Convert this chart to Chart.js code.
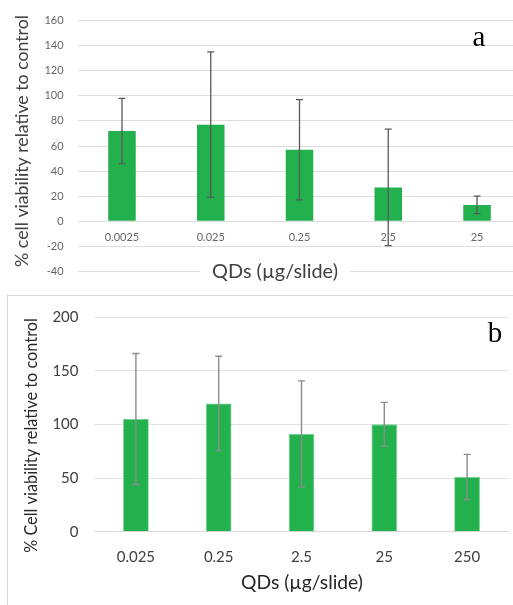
<!DOCTYPE html>
<html><head><meta charset="utf-8">
<script src="https://cdn.jsdelivr.net/npm/chart.js@4.4.1/dist/chart.umd.min.js"></script>
<style>
html,body{margin:0;padding:0;background:#fff;overflow:hidden;width:513px;height:605px;position:relative;}
#box{position:absolute;left:7px;top:295px;width:530px;height:330px;border:1px solid #d9d9d9;box-sizing:border-box;}
#wa{position:absolute;left:0;top:0;width:530px;height:292px;}
#wb{position:absolute;left:0;top:292px;width:513px;height:313px;}
</style></head><body>
<div id="box"></div>
<div id="wa"><canvas id="ca"></canvas></div>
<div id="wb"><canvas id="cb"></canvas></div>
<script>
// ---- Data: panel a ----
const categoriesA = ['0.0025', '0.025', '0.25', '2.5', '25'];
const valuesA = [72, 77, 57, 27, 13];
const errorsA = [26, 58, 40, 46.5, 7];
const yTicksA = [-40, -20, 0, 20, 40, 60, 80, 100, 120, 140, 160];

// ---- Data: panel b ----
const categoriesB = ['0.025', '0.25', '2.5', '25', '250'];
const valuesB = [105, 119.5, 91, 100, 51];
const errorsB = [61, 44, 49.5, 20.5, 21];
const yTicksB = [0, 50, 100, 150, 200];

const FONT = 'Lato, "Open Sans", sans-serif';
const GREEN = '#23b14d';

function fitSize(ctx, text, weight, family, target) {
  ctx.font = weight + ' 20px ' + family;
  const w = ctx.measureText(text).width;
  return 20 * target / w;
}

const extrasPlugin = {
  id: 'extras',
  afterDatasetsDraw(chart, args, opts) {
    const ctx = chart.ctx;
    const xs = chart.scales.x, ys = chart.scales.y;
    ctx.save();
    ctx.strokeStyle = opts.errColor;
    ctx.lineWidth = opts.errWidth;
    opts.values.forEach((v, i) => {
      const e = opts.errors[i];
      const x = xs.getPixelForValue(i);
      const yt = ys.getPixelForValue(v + e);
      const yb = ys.getPixelForValue(v - e);
      ctx.beginPath();
      ctx.moveTo(x, yt); ctx.lineTo(x, yb);
      ctx.moveTo(x - opts.cap, yt); ctx.lineTo(x + opts.cap, yt);
      ctx.moveTo(x - opts.cap, yb); ctx.lineTo(x + opts.cap, yb);
      ctx.stroke();
    });
    ctx.restore();
  },
  afterDraw(chart, args, opts) {
    const ctx = chart.ctx;
    ctx.save();
    const yt = opts.yTitle;
    let s = fitSize(ctx, yt.text, '400', FONT, yt.length);
    ctx.font = '400 ' + s + 'px ' + FONT;
    ctx.fillStyle = yt.color;
    ctx.textAlign = 'center';
    ctx.textBaseline = 'middle';
    ctx.translate(yt.x, yt.y);
    ctx.rotate(-Math.PI / 2);
    ctx.fillText(yt.text, 0, 0);
    ctx.setTransform(chart.currentDevicePixelRatio, 0, 0, chart.currentDevicePixelRatio, 0, 0);
    const xt = opts.xTitle;
    s = fitSize(ctx, xt.text, '400', FONT, xt.length);
    ctx.font = '400 ' + s + 'px ' + FONT;
    if (xt.bg) {
      ctx.fillStyle = '#fff';
      ctx.fillRect(xt.x - xt.length / 2 - xt.bgPad, xt.y - 4, xt.length + 2 * xt.bgPad, 8);
    }
    ctx.fillStyle = xt.color;
    ctx.textAlign = 'center';
    ctx.textBaseline = 'middle';
    ctx.fillText(xt.text, xt.x, xt.y);
    const pl = opts.label;
    ctx.font = '400 29px "Liberation Serif", "Times New Roman", serif';
    ctx.fillStyle = '#000';
    ctx.textAlign = 'center';
    ctx.textBaseline = 'alphabetic';
    ctx.fillText(pl.text, pl.x, pl.y);
    ctx.restore();
  }
};

new Chart(document.getElementById('ca'), {
  type: 'bar',
  data: {
    labels: categoriesA,
    datasets: [{ data: valuesA, backgroundColor: GREEN, barPercentage: 0.31, categoryPercentage: 1 }]
  },
  options: {
    responsive: true, maintainAspectRatio: false, animation: false,
    layout: { padding: { top: 16, bottom: 20.3, left: 0, right: 8.6 } },
    plugins: {
      legend: { display: false }, tooltip: { enabled: false },
      extras: {
        values: valuesA, errors: errorsA, errColor: '#595959', errWidth: 1.3, cap: 3.5,
        yTitle: { text: '% cell viability relative to control', x: 22, y: 141, length: 252, color: '#404040' },
        xTitle: { text: 'QDs (µg/slide)', x: 275, y: 272, length: 126, color: '#404040', bg: true, bgPad: 12 },
        label: { text: 'a', x: 479, y: 46 }
      }
    },
    scales: {
      x: {
        position: { y: 0 },
        grid: { display: false }, border: { display: false },
        ticks: { padding: 2, color: '#666', font: { family: FONT, size: 11 } }
      },
      y: {
        min: yTicksA[0], max: yTicksA[yTicksA.length - 1],
        afterBuildTicks(scale) { scale.ticks = yTicksA.map(v => ({ value: v })); },
        afterFit(scale) { scale.width = 77.6; },
        grid: { color: '#dedede', drawTicks: false }, border: { display: false },
        ticks: { padding: 14, color: '#666', font: { family: FONT, size: 11 } }
      }
    }
  },
  plugins: [extrasPlugin]
});

new Chart(document.getElementById('cb'), {
  type: 'bar',
  data: {
    labels: categoriesB,
    datasets: [{ data: valuesB, backgroundColor: GREEN, borderColor: '#6fcf8d', borderWidth: 0.8, barPercentage: 0.31, categoryPercentage: 1 }]
  },
  options: {
    responsive: true, maintainAspectRatio: false, animation: false,
    layout: { padding: { top: 21.3, bottom: 0, left: 0, right: 4.5 } },
    plugins: {
      legend: { display: false }, tooltip: { enabled: false },
      extras: {
        values: valuesB, errors: errorsB, errColor: '#8c8c8c', errWidth: 1.4, cap: 3.5,
        yTitle: { text: '% Cell viability relative to control', x: 32, y: 143.5, length: 235, color: '#262626' },
        xTitle: { text: 'QDs (µg/slide)', x: 302, y: 290.7, length: 122, color: '#262626', bg: false, bgPad: 0 },
        label: { text: 'b', x: 495, y: 50 }
      }
    },
    scales: {
      x: {
        position: 'bottom',
        grid: { display: false }, border: { display: true, color: '#d9d9d9' },
        afterFit(scale) { scale.height = 73.3; },
        ticks: { padding: 8, color: '#404040', font: { family: FONT, size: 15 } }
      },
      y: {
        min: yTicksB[0], max: yTicksB[yTicksB.length - 1],
        afterBuildTicks(scale) { scale.ticks = yTicksB.map(v => ({ value: v })); },
        afterFit(scale) { scale.width = 94.5; },
        grid: { color: '#e3e3e3', drawTicks: false }, border: { display: false },
        ticks: { padding: 16, color: '#404040', font: { family: FONT, size: 15 } }
      }
    }
  },
  plugins: [extrasPlugin]
});
</script></body></html>
